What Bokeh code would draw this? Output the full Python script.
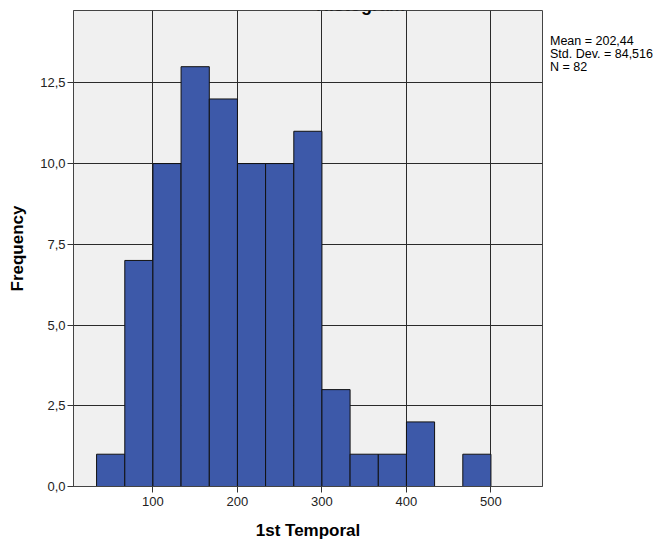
from bokeh.plotting import figure
from bokeh.models import Range1d, FixedTicker, CustomJSTickFormatter, Label, ColumnDataSource, Div
from bokeh.layouts import row
from bokeh.embed import file_html
from bokeh.resources import INLINE

# Data
bin_left = [33.3, 66.7, 100.0, 133.3, 166.7, 200.0, 233.3, 266.7, 300.0, 333.3, 366.7, 400.0, 433.3, 466.7]
bin_right = [66.7, 100.0, 133.3, 166.7, 200.0, 233.3, 266.7, 300.0, 333.3, 366.7, 400.0, 433.3, 466.7, 500.0]
counts = [1, 7, 10, 13, 12, 10, 10, 11, 3, 1, 1, 2, 0, 1]
x_ticks = [100, 200, 300, 400, 500]
y_ticks = [0, 2.5, 5.0, 7.5, 10.0, 12.5]
stats_lines = ["Mean = 202,44", "Std. Dev. = 84,516", "N = 82"]

FONT = "Liberation Sans"

p = figure(width=547, height=544, output_backend="svg", toolbar_location=None,
           x_range=Range1d(6, 561), y_range=Range1d(0, 14.74),
           min_border_left=73, min_border_right=5, min_border_top=10, min_border_bottom=58,
           margin=0)

p.background_fill_color = "#f0f0f0"
p.border_fill_color = "white"
p.outline_line_color = "#444444"
p.outline_line_width = 1

src = ColumnDataSource(dict(left=bin_left, right=bin_right, top=counts, bottom=[0] * len(counts)))
p.quad(left="left", right="right", top="top", bottom="bottom", source=src,
       fill_color="#3d59a9", line_color="#111111", line_width=1)

fmt = CustomJSTickFormatter(code="return tick.toFixed(1).replace('.', ',');")

p.xaxis.ticker = FixedTicker(ticks=x_ticks)
p.yaxis.ticker = FixedTicker(ticks=y_ticks)
p.yaxis.formatter = fmt

for ax in (p.xaxis[0], p.yaxis[0]):
    ax.major_tick_out = 6
    ax.major_tick_in = 0
    ax.minor_tick_line_color = None
    ax.major_tick_line_color = "#333333"
    ax.axis_line_color = "#444444"
    ax.major_label_text_font = FONT
    ax.major_label_text_font_size = "13px"
    ax.major_label_text_color = "#222222"
    ax.axis_label_text_font = FONT
    ax.axis_label_text_font_style = "bold"
    ax.axis_label_text_font_size = "17px"
    ax.axis_label_text_color = "black"

p.xaxis.axis_label = "1st Temporal"
p.yaxis.axis_label = "Frequency"
p.xaxis.major_label_standoff = 4
p.yaxis.major_label_standoff = 2
p.xaxis.axis_label_standoff = 12
p.yaxis.axis_label_standoff = 10

p.xgrid.ticker = FixedTicker(ticks=x_ticks)
p.ygrid.ticker = FixedTicker(ticks=[2.5, 5.0, 7.5, 10.0, 12.5])
p.grid.grid_line_color = "#2a2a2a"
p.grid.grid_line_width = 1
p.grid.grid_line_alpha = 1.0

# title, cut off at the top edge as in the reference (screen units relative to the frame)
p.add_layout(Label(x=287, y=482, x_units="screen", y_units="screen", text="Histogram",
                   text_font=FONT, text_font_style="bold",
                   text_font_size="18px", text_align="center", text_baseline="alphabetic",
                   text_color="black"))

stats = Div(text="<br>".join(stats_lines), width=112, height=544, margin=0,
            styles={"font-family": FONT, "font-size": "12.5px", "line-height": "13px",
                    "color": "black", "padding-top": "35px", "padding-left": "3px",
                    "white-space": "nowrap", "box-sizing": "border-box"})

layout = row(p, stats, margin=0, spacing=0)

open("out.html", "w").write(file_html(layout, INLINE))
